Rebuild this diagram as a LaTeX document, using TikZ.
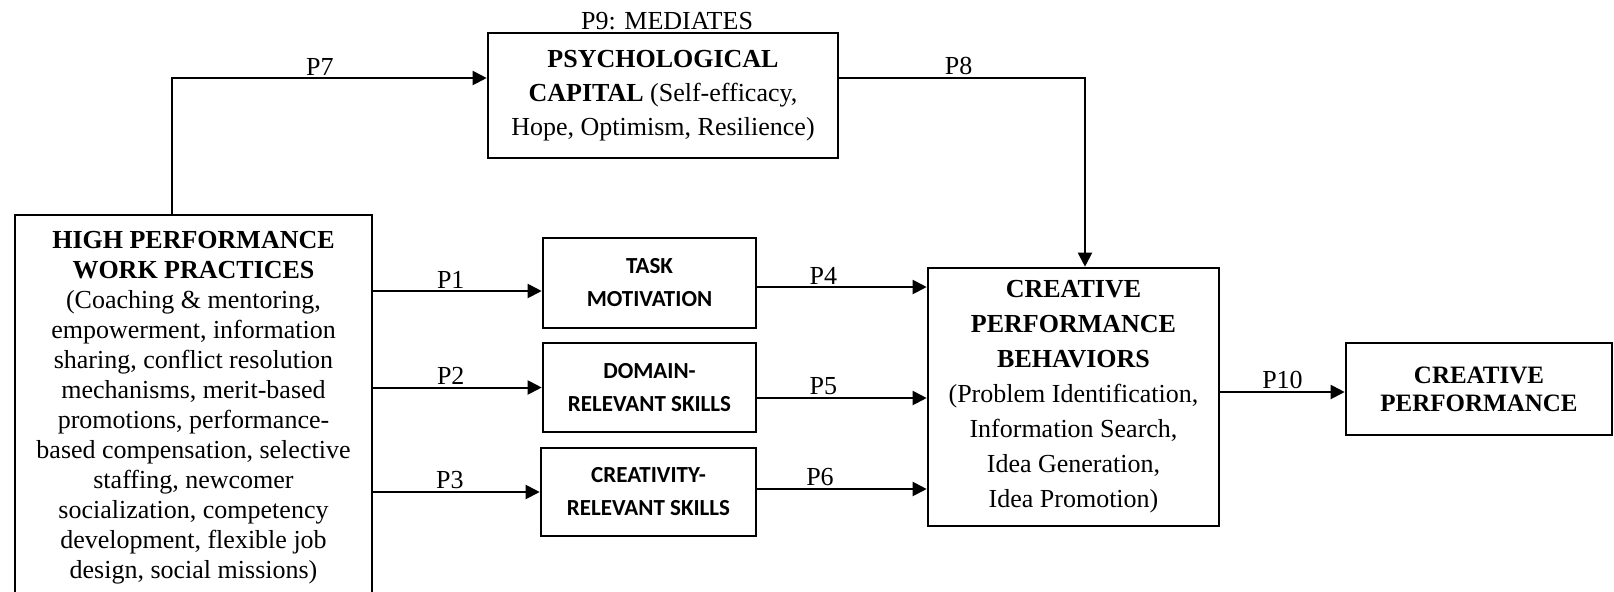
\documentclass[tikz,border=0pt]{standalone}
\usepackage{fontspec}
\setmainfont{Liberation Serif}
\newfontfamily\calibri{Carlito}
\usetikzlibrary{arrows.meta}
\newcommand{\serifsize}[1]{\fontsize{13}{#1}\selectfont}

\begin{document}
\begin{tikzpicture}[x=0.5pt, y=-0.5pt]
  \tikzset{box/.style={draw, line width=1.3pt, align=center, inner sep=0pt},
           smallbox/.style={box, minimum width=106.5pt, font=\calibri\bfseries\fontsize{11.5}{16.5}\selectfont},
           flow/.style={-{Triangle[length=7pt,width=7pt]}, line width=1pt},
           plabel/.style={above, inner sep=1pt, font=\serifsize{15}}}
  \useasboundingbox (0,0) rectangle (1614,591);

  % boxes
  \node[box, minimum width=178.5pt, minimum height=192.5pt, font=\serifsize{15}] (hpwp) at (193.5,407.5)
    {\textbf{HIGH PERFORMANCE}\\\textbf{WORK PRACTICES}\\(Coaching \& mentoring,\\empowerment, information\\
     sharing, conflict resolution\\mechanisms, merit-based\\promotions, performance-\\based compensation, selective\\
     staffing, newcomer\\socialization, competency\\development, flexible job\\design, social missions)};
  \node[box, minimum width=175pt, minimum height=62.5pt, font=\serifsize{17}] (psycap) at (663,95.5)
    {\textbf{PSYCHOLOGICAL}\\\textbf{CAPITAL} (Self-efficacy,\\Hope, Optimism, Resilience)};
  \node[font=\serifsize{15}] (mediates) at (667,21) {P9: MEDIATES};
  \node[smallbox, minimum height=45pt] (task) at (649.5,283) {TASK\\MOTIVATION};
  \node[smallbox, minimum height=44.5pt] (domain) at (649.5,387.5) {DOMAIN-\\RELEVANT SKILLS};
  \node[smallbox, minimum width=107.5pt, minimum height=44pt] (creat) at (648.5,492) {CREATIVITY-\\RELEVANT SKILLS};
  \node[box, minimum width=145.5pt, minimum height=129pt, font=\serifsize{17.5}] (cpb) at (1073.5,397)
    {\textbf{CREATIVE}\\\textbf{PERFORMANCE}\\\textbf{BEHAVIORS}\\(Problem Identification,\\Information Search,\\
     Idea Generation,\\Idea Promotion)};
  \node[box, minimum width=133pt, minimum height=46pt, font=\fontsize{12.5}{14}\selectfont] (cp) at (1479,389)
    {\textbf{CREATIVE}\\\textbf{PERFORMANCE}};

  % paths
  \draw[flow] ([xshift=-10.75pt]hpwp.north) |- node[plabel, pos=.735] (p7) {P7} ([yshift=8.75pt]psycap.west);
  \draw[flow] ([yshift=8.75pt]psycap.east) -| node[plabel, pos=.243] (p8) {P8} ([xshift=5.75pt]cpb.north);
  \draw[flow] ([yshift=-4pt]task.west -| hpwp.east) -- node[plabel, pos=.46] (p1) {P1} ([yshift=-4pt]task.west);
  \draw[flow] (domain.west -| hpwp.east) -- node[plabel, pos=.46] (p2) {P2} (domain.west);
  \draw[flow] (creat.west -| hpwp.east) -- node[plabel, pos=.46] (p3) {P3} (creat.west);
  \draw[flow] ([yshift=-2pt]task.east) -- node[plabel, pos=.39] (p4) {P4} ([yshift=-2pt]task.east -| cpb.west);
  \draw[flow] ([yshift=-5.25pt]domain.east) -- node[plabel, pos=.39] (p5) {P5} ([yshift=-5.25pt]domain.east -| cpb.west);
  \draw[flow] ([yshift=1.5pt]creat.east) -- node[plabel, pos=.37] (p6) {P6} ([yshift=1.5pt]creat.east -| cpb.west);
  \draw[flow] ([yshift=2.5pt]cpb.east) -- node[plabel] (p10) {P10} ([yshift=2.5pt]cpb.east -| cp.west);
\end{tikzpicture}
\end{document}
